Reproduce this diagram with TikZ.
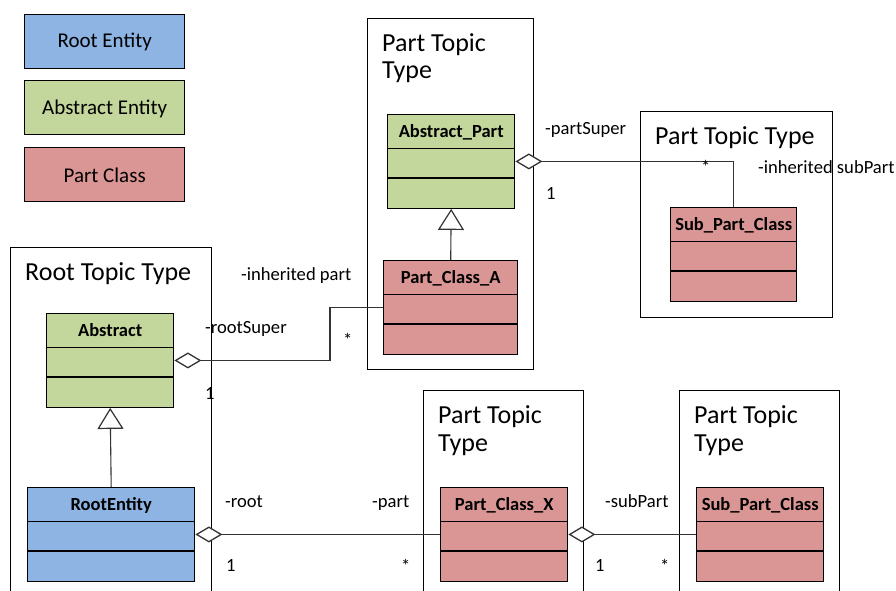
\documentclass[tikz,border=0pt]{standalone}
\usepackage{fontspec}
\setmainfont{Carlito}
\usetikzlibrary{arrows.meta,calc}

\definecolor{rootblue}{HTML}{8DB4E2}
\definecolor{abstractgreen}{HTML}{C3D69B}
\definecolor{partred}{HTML}{D99694}

\tikzset{
  legendbox/.style={draw=black, line width=1.4pt, anchor=north west, inner sep=0pt,
    minimum width=160pt, minimum height=54pt},
  legendtext/.style={anchor=base, font=\fontsize{21}{24}\selectfont},
  frame/.style={draw=black, line width=1.3pt, anchor=north west, inner sep=0pt},
  frametitle/.style={anchor=base west, inner sep=0pt, font=\fontsize{26}{28}\selectfont},
  classbox/.style={draw=black, line width=1.4pt, anchor=north west, inner sep=0pt,
    minimum height=93.5pt},
  classline/.style={draw=black, line width=1.4pt},
  classname/.style={anchor=base, inner sep=0pt, font=\bfseries\fontsize{18.5}{21}\selectfont},
  lbl/.style={anchor=base west, inner sep=0pt, font=\fontsize{18.6}{21}\selectfont},
  conn/.style={draw=black!80, line width=1.1pt},
  aggr/.style={conn, {Diamond[open, fill=white, length=27pt, width=16pt, line width=1.3pt]}-},
  inherit/.style={conn, -{Triangle[open, fill=white, length=21pt, width=26pt, line width=1.2pt]}},
}

% UML class box: name, fill, x, y, width, title
\newcommand{\umlclass}[6]{%
  \node[classbox, fill=#2, minimum width=#5pt] (#1) at (#3,#4) {};
  \draw[classline] ([yshift=-34.5pt]#1.north west) -- ([yshift=-34.5pt]#1.north east);
  \draw[classline] ([yshift=-64pt]#1.north west) -- ([yshift=-64pt]#1.north east);
  \node[classname] at ([yshift=-23pt]#1.north) {#6};
}

\begin{document}
\begin{tikzpicture}[x=1pt, y=-1pt]
  \clip (0,0) rectangle (896,591);
  \fill[white] (0,0) rectangle (896,591);

  % legend
  \node[legendbox, fill=rootblue] (lgroot) at (24,14) {};
  \node[legendtext] at ([yshift=-34pt]lgroot.north) {Root Entity};
  \node[legendbox, fill=abstractgreen] (lgabs) at (24,80) {};
  \node[legendtext] at ([yshift=-35pt]lgabs.north) {Abstract Entity};
  \node[legendbox, fill=partred] (lgpart) at (24,147) {};
  \node[legendtext] at ([yshift=-35pt]lgpart.north) {Part Class};

  % topic type frames
  \node[frame, minimum width=166pt, minimum height=351pt] (ftop) at (367,18) {};
  \node[frametitle] at (382,52) {Part Topic};
  \node[frametitle] at (382,79) {Type};

  \node[frame, minimum width=192pt, minimum height=206pt] (fright) at (640,111) {};
  \node[frametitle] at (655,144) {Part Topic Type};

  \node[frame, minimum width=201pt, minimum height=360pt] (froot) at (10,247) {};
  \node[frametitle] at (25,280) {Root Topic Type};

  \node[frame, minimum width=160pt, minimum height=220pt] (fmid) at (423,390) {};
  \node[frametitle] at (438,423) {Part Topic};
  \node[frametitle] at (438,451) {Type};

  \node[frame, minimum width=160pt, minimum height=220pt] (fbr) at (679,390) {};
  \node[frametitle] at (694,423) {Part Topic};
  \node[frametitle] at (694,451) {Type};

  % classes
  \umlclass{ap}{abstractgreen}{387}{114}{127}{Abstract\_Part}
  \umlclass{pca}{partred}{383}{260}{134}{Part\_Class\_A}
  \umlclass{spa}{partred}{670}{207}{126}{Sub\_Part\_Class}
  \umlclass{ab}{abstractgreen}{46}{313}{127}{Abstract}
  \umlclass{re}{rootblue}{27}{487}{167}{RootEntity}
  \umlclass{pcx}{partred}{440}{487}{127}{Part\_Class\_X}
  \umlclass{spb}{partred}{696}{487}{127}{Sub\_Part\_Class}

  % generalisations
  \draw[inherit] (pca.north) -- (ap.south);
  \draw[inherit] (re.north) -- (ab.south);

  % aggregations
  \coordinate (elbow) at (330,0);
  \draw[aggr] (ap.east) -| (spa.north);
  \draw[aggr] (ab.east) -- (ab.east -| elbow) |- (pca.west);
  \draw[aggr] (re.east) -- (pcx.west);
  \draw[aggr] (pcx.east) -- (spb.west);

  % role names and multiplicities
  \node[lbl] at (545,134) {-partSuper};
  \node[lbl] at (546,199) {1};
  \node[lbl] at (701,173) {*};
  \node[lbl] at (758,173) {-inherited subPart};
  \node[lbl] at (241,280) {-inherited part};
  \node[lbl] at (205,333) {-rootSuper};
  \node[lbl] at (343,346) {*};
  \node[lbl] at (205,399) {1};
  \node[lbl] at (225,507) {-root};
  \node[lbl] at (372,507) {-part};
  \node[lbl] at (226,571) {1};
  \node[lbl] at (401,572) {*};
  \node[lbl] at (605,507) {-subPart};
  \node[lbl] at (595,571) {1};
  \node[lbl] at (660,572) {*};
\end{tikzpicture}
\end{document}
